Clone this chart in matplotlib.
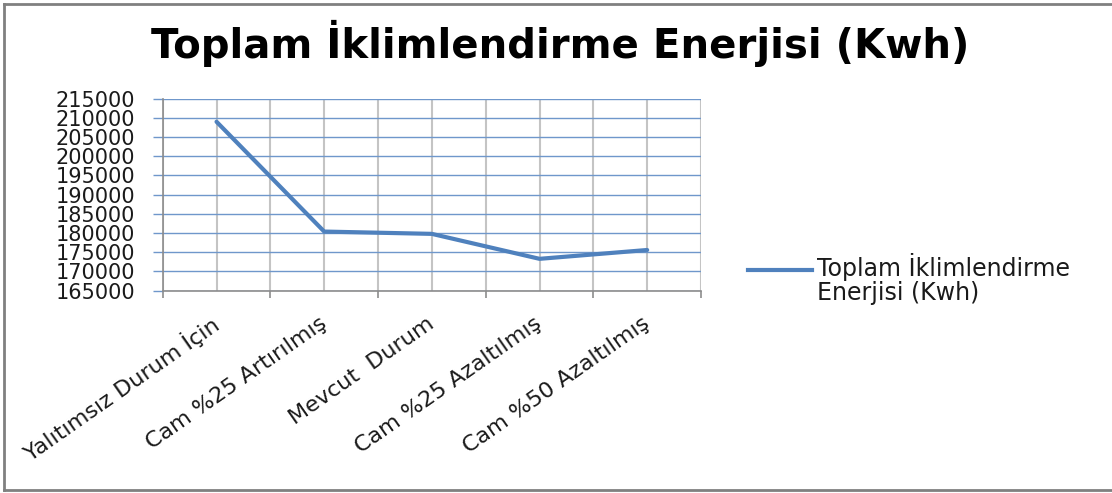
import matplotlib
matplotlib.use("Agg")
import matplotlib.pyplot as plt
from matplotlib.lines import Line2D
import numpy as np

# Data
categories = ["Yalıtımsız Durum İçin", "Cam %25 Artırılmış", "Mevcut  Durum",
              "Cam %25 Azaltılmış", "Cam %50 Azaltılmış"]
energy_kwh = [209000, 180400, 179800, 173300, 175600]
y_ticks = [165000, 170000, 175000, 180000, 185000, 190000, 195000,
           200000, 205000, 210000, 215000]
title = "Toplam İklimlendirme Enerjisi (Kwh)"
series_name = "Toplam İklimlendirme\nEnerjisi (Kwh)"

W, H, DPI = 1112, 493, 100
plt.rcParams["font.family"] = ["DejaVu Sans"]

fig = plt.figure(figsize=(W / DPI, H / DPI), dpi=DPI)
fig.patch.set_facecolor("white")

def px(x0, y0, x1, y1):
    """Axes rectangle from pixel edges (top-left origin)."""
    return [x0 / W, 1 - y1 / H, (x1 - x0) / W, (y1 - y0) / H]

ax = fig.add_axes(px(162.7, 98.7, 701, 290.7))
line_color = "#4F81BD"
grid_blue = "#6f97cb"
grid_grey = "#c4c4c4"
axis_grey = "#8c8c8c"

x = np.arange(len(categories))
ax.plot(x, energy_kwh, color=line_color, lw=3.0, solid_joinstyle="round",
        solid_capstyle="round", zorder=3, clip_on=False)

ax.set_xlim(-0.5, len(categories) - 0.5)
ax.set_ylim(y_ticks[0], y_ticks[-1])

# y axis
ax.set_yticks(y_ticks)
ax.set_yticklabels([str(v) for v in y_ticks], fontsize=15, color="#1a1a1a")
ax.tick_params(axis="y", which="major", length=7.2, width=1.0,
               color=grid_blue, pad=12.5)
ax.yaxis.grid(True, color=grid_blue, lw=1.0)

# x axis: boundaries carry tick marks, category centres carry labels
boundaries = np.arange(-0.5, len(categories), 1.0)
ax.set_xticks(boundaries)
ax.set_xticklabels([""] * len(boundaries))
ax.set_xticks(x, minor=True)
ax.set_xticklabels(categories, minor=True, fontsize=16, color="#1a1a1a")
ax.tick_params(axis="x", which="major", length=5, width=1.2, color=axis_grey)
ax.tick_params(axis="x", which="minor", length=0, pad=22)
for lab in ax.get_xticklabels(minor=True):
    lab.set_rotation(35)
    lab.set_rotation_mode("anchor")
    lab.set_ha("right")
    lab.set_va("center")
ax.xaxis.grid(True, which="both", color=grid_grey, lw=1.5)
ax.set_axisbelow(True)

for side in ("top", "right"):
    ax.spines[side].set_visible(False)
for side in ("left", "bottom"):
    ax.spines[side].set_color(axis_grey)
    ax.spines[side].set_linewidth(1.2)

# Title
fig.text(560 / W, 1 - 58 / H, title, ha="center", va="baseline",
         fontsize=29, fontweight="bold", color="black")

# Legend key and label (baseline refers to the last line of the label)
fig.add_artist(Line2D([748 / W, 812 / W], [1 - 269.5 / H, 1 - 269.5 / H],
                      transform=fig.transFigure, color=line_color, lw=3.0))
fig.text(817 / W, 1 - 300 / H, series_name, ha="left", va="baseline",
         fontsize=17, color="#1a1a1a", linespacing=0.98)

# Chart frame
frame = dict(transform=fig.transFigure, color="#808080", lw=2.0)
fig.add_artist(Line2D([4 / W, 1.0], [1 - 4 / H, 1 - 4 / H], **frame))
fig.add_artist(Line2D([4 / W, 4 / W], [1 - 4 / H, 1 - 490 / H], **frame))
fig.add_artist(Line2D([4 / W, 1.0], [1 - 490 / H, 1 - 490 / H], **frame))

fig.savefig("out.png", dpi=DPI)
